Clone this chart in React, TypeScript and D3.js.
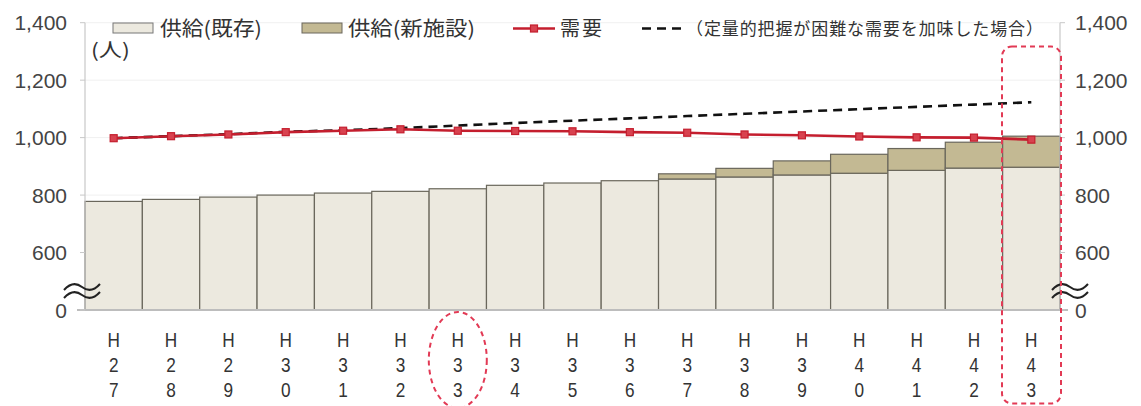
import React from "react";
import * as d3 from "d3";

const categories = ["H27","H28","H29","H30","H31","H32","H33","H34","H35","H36","H37","H38","H39","H40","H41","H42","H43"];
const existingSupply = [778,785,793,800,807,813,822,834,842,850,856,863,870,876,886,894,897];
const newSupply = [0,0,0,0,0,0,0,0,0,0,18,30,49,66,76,90,108];
const demand = [998,1005,1011,1019,1024,1029,1024,1023,1022,1019,1017,1011,1008,1004,1001,1000,993];
const demandPlus = [998,1005,1012,1020,1026,1033,1042,1051,1059,1067,1075,1083,1091,1099,1107,1115,1123];
const tickValues = [400,600,800,1000,1200,1400];
const tickLabels = ["0","600","800","1,000","1,200","1,400"];
const legendLabels = ["供給(既存)","供給(新施設)","需要","（定量的把握が困難な需要を加味した場合）"];

const W = 1141, H = 406;
const left = 85, right = 1060, top = 22.7, bottom = 310;

const COL_EXIST = "#ECE9DF";
const COL_NEW = "#C3B993";
const COL_BAR_STROKE = "#6A675C";
const COL_RED = "#C41E2E";
const COL_MARK_FILL = "#D8424F";
const COL_HL = "#E23A55";
const FONT = "'Liberation Sans', Arial, 'Noto Sans CJK JP', sans-serif";
const JFONT = "'Noto Sans CJK JP', 'Noto Sans', sans-serif";

export default function App() {
  const x = d3.scaleBand<string>().domain(categories).range([left, right]).paddingInner(0).paddingOuter(0);
  const y = d3.scaleLinear().domain([400, 1400]).range([bottom, top]);
  const cx = (c: string) => (x(c) as number) + x.bandwidth() / 2;

  const lineGen = d3.line<number>().x((_, i) => cx(categories[i])).y((d) => y(d));

  const wave = (x0: number, y0: number) =>
    `M${x0},${y0} Q${x0 + 9},${y0 - 10} ${x0 + 18},${y0 - 3} T${x0 + 36},${y0 - 6}`;

  return (
    <svg width={W} height={H} style={{ position: "absolute", left: 0, top: 0, background: "#fff" }}>
      {tickValues.slice(1).map((t) => (
        <line key={"g" + t} x1={left} x2={right} y1={y(t)} y2={y(t)} stroke="#f0f0f0" strokeWidth={1} />
      ))}
      {categories.map((c, i) => (
        <g key={c}>
          <rect x={x(c)} y={y(existingSupply[i])} width={x.bandwidth()} height={y(400) - y(existingSupply[i])}
            fill={COL_EXIST} stroke={COL_BAR_STROKE} strokeWidth={1.2} />
          {newSupply[i] > 0 && (
            <rect x={x(c)} y={y(existingSupply[i] + newSupply[i])} width={x.bandwidth()}
              height={y(existingSupply[i]) - y(existingSupply[i] + newSupply[i])}
              fill={COL_NEW} stroke={COL_BAR_STROKE} strokeWidth={1.2} />
          )}
        </g>
      ))}
      <line x1={left} x2={left} y1={top} y2={bottom} stroke="#c8c8c8" strokeWidth={1.2} />
      <line x1={right} x2={right} y1={top} y2={bottom} stroke="#c8c8c8" strokeWidth={1.2} />
      <line x1={left - 8} x2={right + 8} y1={bottom} y2={bottom} stroke="#bdbdbd" strokeWidth={2} />
      {tickValues.map((t, i) => (
        <g key={"t" + t}>
          <line x1={left - 5} x2={left} y1={y(t)} y2={y(t)} stroke="#c8c8c8" />
          <line x1={right} x2={right + 5} y1={y(t)} y2={y(t)} stroke="#c8c8c8" />
          <text x={67} y={y(t)} dy="0.36em" textAnchor="end" fontFamily={FONT} fontSize={21} fill="#444">{tickLabels[i]}</text>
          <text x={1075} y={y(t)} dy="0.36em" textAnchor="start" fontFamily={FONT} fontSize={21} fill="#444">{tickLabels[i]}</text>
        </g>
      ))}
      {[64, 1052].map((bx) => (
        <g key={"b" + bx}>
          <path d={wave(bx, 290)} fill="none" stroke="#222" strokeWidth={2} />
          <path d={wave(bx, 298)} fill="none" stroke="#222" strokeWidth={2} />
        </g>
      ))}
      <path d={lineGen(demandPlus) || ""} fill="none" stroke="#111" strokeWidth={2.6} strokeDasharray="9,6" />
      <path d={lineGen(demand) || ""} fill="none" stroke={COL_RED} strokeWidth={2.6} />
      {demand.map((d, i) => (
        <rect key={"m" + i} x={cx(categories[i]) - 3.5} y={y(d) - 3.5} width={7} height={7}
          fill={COL_MARK_FILL} stroke={COL_RED} strokeWidth={1.2} />
      ))}
      {categories.map((c) => (
        <g key={"l" + c}>
          {c.split("").map((ch, j) => (
            <text key={j} transform={`translate(${cx(c)},${347 + j * 25}) scale(0.82,1)`} textAnchor="middle"
              fontFamily="Arial, 'Liberation Sans', sans-serif" fontSize={21} fill="#333">{ch}</text>
          ))}
        </g>
      ))}
      <text x={91} y={57} fontFamily={JFONT} fontSize={19} fill="#333" textLength={39} lengthAdjust="spacingAndGlyphs">(人)</text>
      <rect x={113} y={23} width={40} height={10} fill={COL_EXIST} stroke="#777" strokeWidth={1} />
      <text x={160} y={36} fontFamily={JFONT} fontSize={20} fill="#333" textLength={102} lengthAdjust="spacingAndGlyphs">{legendLabels[0]}</text>
      <rect x={302} y={23} width={40} height={10} fill={COL_NEW} stroke="#6A675C" strokeWidth={1} />
      <text x={348} y={36} fontFamily={JFONT} fontSize={20} fill="#333" textLength={127} lengthAdjust="spacingAndGlyphs">{legendLabels[1]}</text>
      <line x1={513} x2={555} y1={28.5} y2={28.5} stroke={COL_RED} strokeWidth={2.6} />
      <rect x={530.5} y={25} width={7} height={7} fill={COL_MARK_FILL} stroke={COL_RED} strokeWidth={1.2} />
      <text x={560} y={36} fontFamily={JFONT} fontSize={20} fill="#333" textLength={42} lengthAdjust="spacing">{legendLabels[2]}</text>
      <line x1={642} x2={682} y1={28.5} y2={28.5} stroke="#111" strokeWidth={2.6} strokeDasharray="9,6" />
      <text x={686} y={35} fontFamily={JFONT} fontSize={17} fill="#333" textLength={357} lengthAdjust="spacing">{legendLabels[3]}</text>
      <ellipse cx={cx("H33")} cy={360} rx={29} ry={48} fill="none" stroke={COL_HL} strokeWidth={2} strokeDasharray="5,4" />
      <rect x={1002} y={46.5} width={59} height={357} rx={10} ry={10} fill="none" stroke={COL_HL} strokeWidth={2} strokeDasharray="5,4" />
    </svg>
  );
}
